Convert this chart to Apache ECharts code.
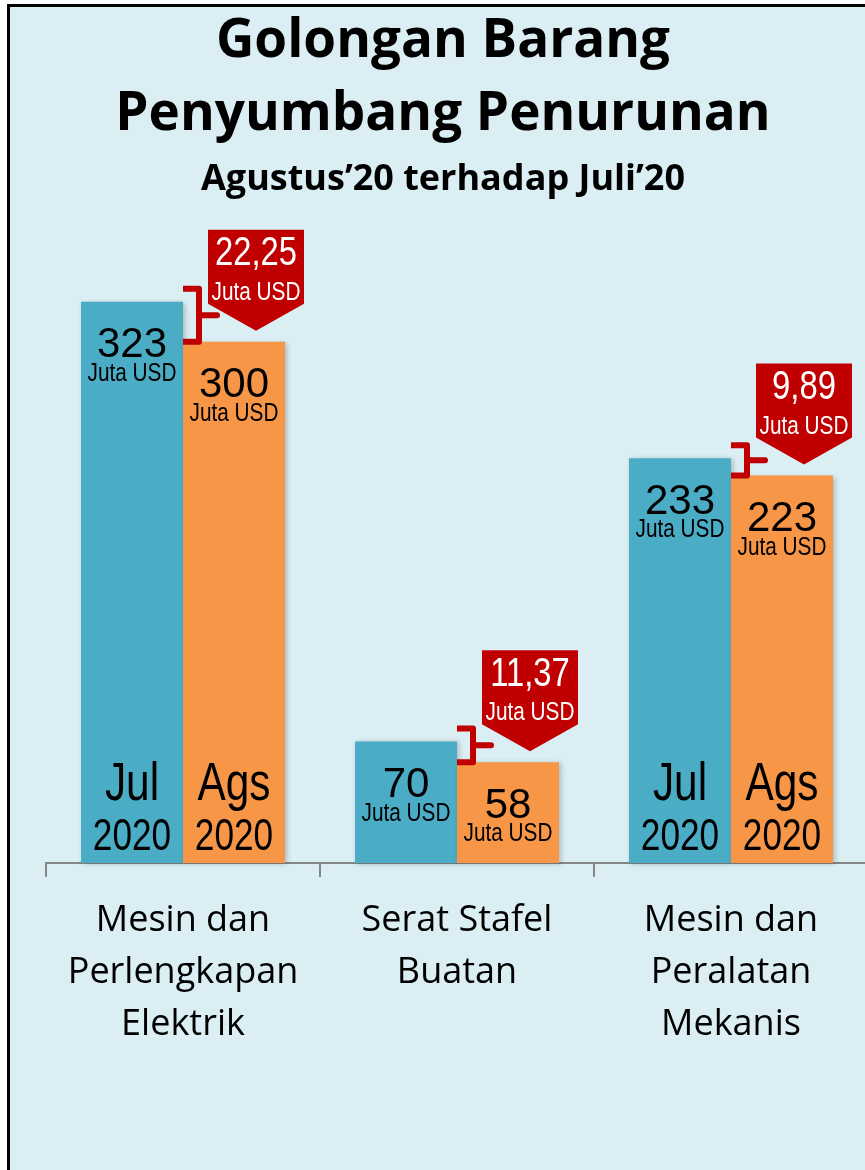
<!DOCTYPE html>
<html>
<head>
<meta charset="utf-8">
<script src="https://cdn.jsdelivr.net/npm/echarts@6.0.0/dist/echarts.min.js"></script>
<style>
  html, body { margin: 0; padding: 0; background: #fff; overflow: hidden; }
  #bingkai {
    position: absolute; left: 7px; top: 4px; width: 900px; height: 1200px;
    border-left: 3px solid #000; border-top: 3px solid #000; background: #DAEEF3;
  }
  #main { position: absolute; left: 0; top: 0; width: 865px; height: 1170px; }
</style>
</head>
<body>
<div id="bingkai"></div>
<div id="main"></div>
<script>
// data
var kategori = ['Mesin dan\nPerlengkapan\nElektrik', 'Serat Stafel\nBuatan', 'Mesin dan\nPeralatan\nMekanis']
var jul2020 = [323, 70, 233]
var ags2020 = [300, 58, 223]
var penurunan = [22.25, 11.37, 9.89] // juta USD
var labelBulan = ['Jul', 'Ags']
var labelTahun = '2020'
var satuan = 'Juta USD'

var warnaJul = '#4BACC6'
var warnaAgs = '#F79646'
var merah = '#C00000'
var fontArial = '"Liberation Sans", Arial, sans-serif'
var fontJudul = '"Open Sans", "Noto Sans", sans-serif'
var SEMPIT = 0.8 // pengganti Arial Narrow

function angka(v) {
  return v.toFixed(2).replace('.', ',')
}

// teks helper (sempit = diperkecil horizontal)
function teks(x, y, str, size, warna, sempit) {
  return {
    type: 'text',
    x: x,
    y: y,
    scaleX: sempit ? SEMPIT : 1,
    style: {
      text: str, fill: warna, font: size + 'px ' + fontArial,
      textAlign: 'center', textVerticalAlign: 'middle',
    },
  }
}

var myChart = echarts.init(document.getElementById('main'))

var gayaBatang = {
  shadowBlur: 5,
  shadowColor: 'rgba(0,0,0,0.22)',
  shadowOffsetX: 2,
  shadowOffsetY: 1,
}

// label nilai, bracket, callout penurunan, label bulan
function renderAnotasi(params, api) {
  var i = api.value(0)
  var nilai = [api.value(1), api.value(2)]
  var pJul = api.coord([i, nilai[0]])
  var pAgs = api.coord([i, nilai[1]])
  var p0 = api.coord([i, 0])
  var cx = pJul[0]
  var puncak = [pJul[1], pAgs[1]]
  var children = []

  // label nilai + bulan
  ;[-51, 51].forEach(function (off, k) {
    var bx = cx + off
    children.push(teks(bx, puncak[k] + 44, String(nilai[k]), 42, '#000', false))
    children.push(teks(bx, puncak[k] + 72, satuan, 26, '#000', true))
    if (p0[1] - puncak[k] < 200) return
    children.push(teks(bx, p0[1] - 78, labelBulan[k], 53, '#000', true))
    children.push(teks(bx, p0[1] - 25, labelTahun, 44, '#000', true))
  })

  // kurung kurawal
  var atas = pJul[1] - 13
  var bawah = pAgs[1]
  var tengah = (atas + bawah) / 2
  children.push({
    type: 'polyline',
    shape: { points: [[cx, atas], [cx + 16, atas], [cx + 16, bawah], [cx, bawah]] },
    style: { stroke: merah, lineWidth: 6, fill: null, lineJoin: 'round' },
  })
  children.push({
    type: 'line',
    shape: { x1: cx + 16, y1: tengah, x2: cx + 34, y2: tengah },
    style: { stroke: merah, lineWidth: 6, lineCap: 'round' },
  })

  // callout panah ke bawah
  var tx = cx + 73
  var ty = pAgs[1] - 11
  var top = ty - 101
  var L = tx - 48
  var R = tx + 48
  children.push({
    type: 'polygon',
    shape: { points: [[L, top], [R, top], [R, top + 74], [tx, ty], [L, top + 74]] },
    style: { fill: merah },
  })
  children.push(teks(tx, top + 24, angka(api.value(3)), 41, '#fff', true))
  children.push(teks(tx, top + 63, satuan, 26, '#fff', true))

  return { type: 'group', children: children }
}

var option = {
  animation: false,
  graphic: [
    {
      type: 'text', x: 443, y: 42, silent: true,
      style: { text: 'Golongan Barang', font: 'bold 53px ' + fontJudul, fill: '#000', textAlign: 'center', textVerticalAlign: 'middle' },
    },
    {
      type: 'text', x: 443, y: 115, silent: true,
      style: { text: 'Penyumbang Penurunan', font: 'bold 53px ' + fontJudul, fill: '#000', textAlign: 'center', textVerticalAlign: 'middle' },
    },
    {
      type: 'text', x: 443, y: 180, silent: true,
      style: { text: 'Agustus’20 terhadap Juli’20', font: 'bold 36px ' + fontJudul, fill: '#000', textAlign: 'center', textVerticalAlign: 'middle' },
    },
  ],
  grid: {
    left: 46,
    top: 168,
    width: 822,
    bottom: 307,
    outerBoundsMode: 'none',
    containLabel: false,
  },
  xAxis: {
    type: 'category',
    data: kategori,
    axisLine: { lineStyle: { color: '#868686', width: 2 } },
    axisTick: { show: true, length: 14, lineStyle: { color: '#868686', width: 2 } },
    axisLabel: {
      interval: 0,
      margin: 32,
      fontSize: 36,
      lineHeight: 52,
      fontFamily: fontJudul,
      color: '#000',
    },
  },
  yAxis: {
    type: 'value',
    min: 0,
    max: 400,
    show: false,
    splitLine: { show: false },
  },
  series: [
    {
      name: 'Jul 2020',
      type: 'bar',
      data: jul2020,
      barWidth: 102,
      barGap: '0%',
      itemStyle: Object.assign({ color: warnaJul }, gayaBatang),
    },
    {
      name: 'Ags 2020',
      type: 'bar',
      data: ags2020,
      barWidth: 102,
      barGap: '0%',
      itemStyle: Object.assign({ color: warnaAgs }, gayaBatang),
    },
    {
      name: 'anotasi',
      type: 'custom',
      renderItem: renderAnotasi,
      data: kategori.map(function (k, i) {
        return [i, jul2020[i], ags2020[i], penurunan[i]]
      }),
      z: 5,
      silent: true,
    },
  ],
}
myChart.setOption(option)
</script>
</body>
</html>
